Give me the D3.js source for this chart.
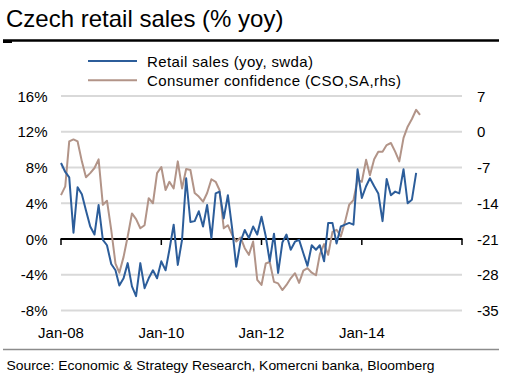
<!DOCTYPE html>
<html>
<head>
<meta charset="utf-8">
<script src="https://cdn.jsdelivr.net/npm/d3@7"></script>
<style>
  html, body { margin: 0; padding: 0; background: #fff; }
  svg { display: block; font-family: "Liberation Sans", Arial, sans-serif; }
</style>
</head>
<body>
<svg id="chart" width="514" height="378"></svg>
<script>
// ---- data ----
const startYear = 2008;
const retailSales = [
  8.5, 7.5, 6.9, 0.7, 5.8, 5.0, 3.2, 1.4, 0.5, 3.8,
  -0.1, -0.7, -2.8, -3.5, -5.2, -4.4, -2.7, -5.3, -6.4, -2.7,
  -5.5, -4.4, -3.5, -4.4, -2.5, -3.5, -1.2, 1.6, -2.9, -0.1,
  6.8, 1.9, 2.0, 3.1, 1.4, 3.8, 0.1, 5.1, 5.3, 2.3,
  4.9, 1.2, -3.1, -0.3, 1.0, 0.1, 1.4, 0.5, 2.5, 0.3,
  -2.5, 0.6, -3.8, -0.4, 0.5, -1.2, -0.3, -0.1, -1.6, -3.0,
  -0.7, -1.2, -0.7, -2.5, 1.8, 1.8, -0.5, 1.4, 1.6, 1.8,
  1.6, 7.8, 4.6, 5.9, 6.8, 5.9, 5.1, 2.0, 6.7, 4.9,
  5.3, 5.1, 7.8, 4.0, 4.4, 7.4
];
const consumerConfidence = [
  -12.4, -10.7, -1.9, -1.5, -1.9, -5.8, -8.9, -8.1, -7.1, -5.4,
  -14.3, -13.5, -19.2, -25.8, -27.6, -24.5, -20.5, -16.0, -17.1, -18.9,
  -18.3, -13.0, -14.0, -8.1, -6.9, -11.4, -9.8, -11.1, -5.8, -11.1,
  -7.3, -7.5, -12.0, -12.7, -13.7, -12.0, -9.3, -9.8, -11.4, -18.9,
  -18.3, -20.2, -21.5, -20.7, -22.8, -24.1, -21.5, -29.0, -30.0, -25.8,
  -25.5, -29.4, -29.7, -31.0, -30.0, -28.7, -27.7, -29.6, -27.2, -26.7,
  -27.6, -28.1, -24.0, -22.0, -24.1, -19.6, -19.2, -20.5, -17.6, -14.3,
  -13.4, -9.4, -9.8, -5.5, -8.5, -5.4, -3.9, -3.9, -2.6, -2.2,
  -3.9, -5.8, -1.2, 1.0, 2.5, 4.3, 3.3
];
const leftTicks = [16, 12, 8, 4, 0, -4, -8];
const rightTicks = [7, 0, -7, -14, -21, -28, -35];
const xTickYears = [2008, 2010, 2012, 2014, 2016];
const xTickLabels = ["Jan-08", "Jan-10", "Jan-12", "Jan-14"];
const seriesNames = ["Retail sales (yoy, swda)", "Consumer confidence (CSO,SA,rhs)"];
const colors = ["#2c5d9a", "#b29488"];

const title = "Czech retail sales (% yoy)";
const source = "Source: Economic & Strategy Research, Komercni banka, Bloomberg";

// ---- layout ----
const svg = d3.select("#chart");
const plot = { left: 61, right: 462, top: 96, bottom: 310.5 };

const x = d3.scaleTime()
  .domain([new Date(2008, 0, 1), new Date(2016, 0, 1)])
  .range([plot.left, plot.right]);
const yL = d3.scaleLinear().domain([-8, 16]).range([plot.bottom, plot.top]);
const yR = d3.scaleLinear().domain([-35, 7]).range([plot.bottom, plot.top]);

const dateOf = i => new Date(startYear, i, 1);

// title
svg.append("text").attr("x", 6).attr("y", 27)
  .attr("font-size", 24).attr("fill", "#000").text(title);
svg.append("line").attr("x1", 3).attr("x2", 499).attr("y1", 40.5).attr("y2", 40.5)
  .attr("stroke", "#000").attr("stroke-width", 2.5);
svg.append("rect").attr("x", 3).attr("y", 40).attr("width", 9).attr("height", 3).attr("fill", "#000");

// gridlines
svg.append("g").selectAll("line").data(leftTicks.filter(d => d !== 0)).join("line")
  .attr("x1", plot.left).attr("x2", plot.right)
  .attr("y1", d => yL(d)).attr("y2", d => yL(d))
  .attr("stroke", "#d9d9d9").attr("stroke-width", 2);

// left axis labels
svg.append("g").selectAll("text").data(leftTicks).join("text")
  .attr("x", 47.5).attr("y", d => yL(d) + 5.5)
  .attr("text-anchor", "end").attr("font-size", 15).attr("fill", "#000")
  .text(d => d + "%");

// right axis labels
svg.append("g").selectAll("text").data(rightTicks).join("text")
  .attr("x", 477).attr("y", d => yR(d) + 5.5)
  .attr("text-anchor", "start").attr("font-size", 15).attr("fill", "#000")
  .text(d => d);

// zero axis line with ticks
const y0 = yL(0);
svg.append("line").attr("x1", plot.left - 0.5).attr("x2", plot.right + 0.5)
  .attr("y1", y0).attr("y2", y0).attr("stroke", "#000").attr("stroke-width", 2);
svg.append("g").selectAll("line").data(xTickYears).join("line")
  .attr("x1", d => x(new Date(d, 0, 1))).attr("x2", d => x(new Date(d, 0, 1)))
  .attr("y1", y0).attr("y2", y0 + 6)
  .attr("stroke", "#000").attr("stroke-width", 1.5);

// x labels
svg.append("g").selectAll("text").data(xTickLabels).join("text")
  .attr("x", (d, i) => x(new Date(xTickYears[i], 0, 1)))
  .attr("y", 337.5).attr("text-anchor", "middle")
  .attr("font-size", 15).attr("fill", "#000").text(d => d);

// lines
const lineL = d3.line().x((d, i) => x(dateOf(i))).y(d => yL(d));
const lineR = d3.line().x((d, i) => x(dateOf(i))).y(d => yR(d));

svg.append("path").datum(consumerConfidence).attr("d", lineR)
  .attr("fill", "none").attr("stroke", colors[1]).attr("stroke-width", 2)
  .attr("stroke-linejoin", "round");
svg.append("path").datum(retailSales).attr("d", lineL)
  .attr("fill", "none").attr("stroke", colors[0]).attr("stroke-width", 2)
  .attr("stroke-linejoin", "round");

// legend (white backing covers the top of the 16% label, as in the original)
svg.append("rect").attr("x", 55).attr("y", 46).attr("width", 360).attr("height", 48.5)
  .attr("fill", "#fff");
const legendWidths = [166, 254];
const leg = svg.append("g");
seriesNames.forEach((name, i) => {
  const ly = 61 + i * 19.3;
  leg.append("line").attr("x1", 88).attr("x2", 137).attr("y1", ly).attr("y2", ly)
    .attr("stroke", colors[i]).attr("stroke-width", 2);
  leg.append("text").attr("x", 147).attr("y", ly + 5.5)
    .attr("font-size", 15).attr("textLength", legendWidths[i])
    .attr("lengthAdjust", "spacing").attr("fill", "#000").text(name);
});

// source
svg.append("line").attr("x1", 3).attr("x2", 499).attr("y1", 349.5).attr("y2", 349.5)
  .attr("stroke", "#8c8c8c").attr("stroke-width", 1.5);
svg.append("text").attr("x", 6.5).attr("y", 369.5)
  .attr("font-size", 13).attr("textLength", 428).attr("lengthAdjust", "spacingAndGlyphs")
  .attr("fill", "#000").text(source);
</script>
</body>
</html>
